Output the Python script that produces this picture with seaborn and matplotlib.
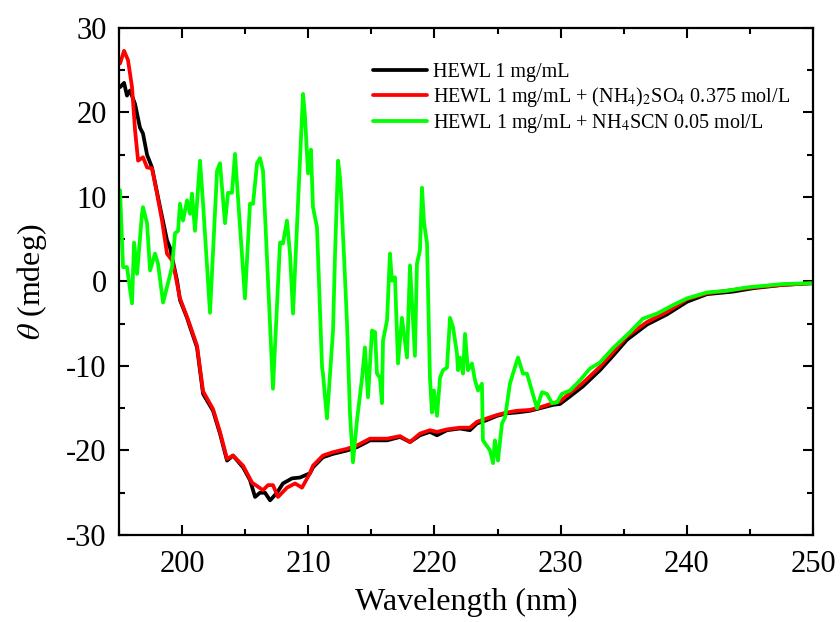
import matplotlib
matplotlib.use("Agg")
import matplotlib.pyplot as plt
import seaborn as sns
import numpy as np
from matplotlib.ticker import MultipleLocator

# ---- data ----
wl_hewl = [195.08, 195.40, 195.63, 195.87, 196.27, 196.66, 196.90, 197.22, 197.61, 198.25,
           198.80, 199.04, 199.60, 199.83, 200.39, 200.63, 201.18, 201.66, 202.45, 203.00,
           203.56, 204.03, 204.83, 205.38, 205.78, 206.17, 206.57, 206.97, 207.52, 207.99,
           208.71, 209.34, 210.13, 210.37, 211.16, 211.96, 213.07, 213.86, 214.89, 216.24,
           217.27, 218.06, 218.85, 219.64, 220.20, 220.99, 222.02, 222.81, 223.37, 224.16,
           224.95, 225.75, 226.54, 227.57, 228.36, 229.39, 229.94, 230.74, 231.77, 233.11,
           234.14, 235.25, 236.84, 238.42, 240.01, 241.59, 243.65, 245.24, 247.61, 250.0]
theta_hewl = [23.0, 23.5, 22.0, 22.6, 21.0, 18.2, 17.5, 15.0, 13.5, 8.8,
              4.9, 4.0, 0.1, -2.2, -4.3, -5.4, -7.8, -13.3, -15.3, -18.0,
              -21.2, -20.6, -22.0, -23.5, -25.5, -25.0, -25.0, -25.9, -25.0, -23.9,
              -23.3, -23.2, -22.7, -22.0, -20.8, -20.4, -20.0, -19.6, -18.8, -18.8,
              -18.4, -19.0, -18.2, -17.8, -18.2, -17.6, -17.4, -17.6, -16.8, -16.4,
              -15.9, -15.6, -15.5, -15.3, -15.0, -14.6, -14.5, -13.6, -12.4, -10.5,
              -8.8, -6.9, -5.1, -3.9, -2.4, -1.5, -1.2, -0.8, -0.4, -0.2]

wl_as = [195.08, 195.40, 195.71, 196.03, 196.27, 196.51, 196.90, 197.22, 197.61, 198.01,
         198.41, 198.80, 199.20, 199.44, 199.83, 200.39, 200.63, 201.18, 201.66, 202.45,
         203.00, 203.56, 204.03, 204.83, 205.54, 206.41, 206.81, 207.20, 207.60, 208.31,
         208.95, 209.50, 210.13, 210.37, 211.16, 211.96, 213.07, 213.86, 214.89, 216.24,
         217.27, 218.06, 218.85, 219.64, 220.20, 220.99, 222.02, 222.81, 223.37, 224.16,
         224.95, 225.75, 226.54, 227.57, 228.36, 229.39, 229.94, 230.74, 231.77, 233.11,
         234.14, 235.25, 236.84, 238.42, 240.01, 241.59, 243.65, 245.24, 247.61, 250.0]
theta_as = [25.8, 27.3, 26.2, 23.0, 17.9, 14.3, 14.7, 13.5, 13.4, 10.4,
            7.2, 3.3, 2.5, 1.0, -2.0, -4.2, -5.2, -7.6, -13.0, -15.1,
            -17.8, -21.0, -20.6, -21.8, -23.8, -24.7, -24.1, -24.1, -25.5, -24.4,
            -23.9, -24.4, -22.7, -21.8, -20.6, -20.2, -19.8, -19.4, -18.6, -18.6,
            -18.3, -19.0, -18.0, -17.6, -17.8, -17.5, -17.3, -17.3, -16.6, -16.2,
            -15.8, -15.5, -15.3, -15.2, -14.9, -14.4, -14.2, -13.2, -12.0, -10.1,
            -8.4, -6.5, -4.8, -3.6, -2.1, -1.4, -1.0, -0.7, -0.4, -0.2]

wl_scn = [195.08, 195.32, 195.63, 196.03, 196.19, 196.43, 196.82, 196.90, 197.22, 197.46,
          197.85, 198.09, 198.49, 199.20, 199.44, 199.68, 199.83, 200.07, 200.39, 200.63,
          200.78, 201.02, 201.42, 201.66, 202.21, 202.77, 203.00, 203.40, 203.64, 203.95,
          204.19, 204.98, 205.38, 205.62, 205.94, 206.17, 206.41, 207.20, 207.76, 207.99,
          208.31, 208.55, 208.79, 209.58, 209.74, 209.98, 210.21, 210.37, 210.69, 211.09,
          211.16, 211.48, 211.96, 212.12, 212.36, 212.51, 212.59, 212.83, 213.07, 213.30,
          213.54, 213.86, 214.26, 214.49, 214.73, 215.05, 215.29, 215.44, 215.68, 215.84,
          215.92, 216.24, 216.47, 216.63, 216.87, 217.11, 217.42, 217.82, 218.06, 218.45,
          218.61, 218.85, 219.01, 219.17, 219.41, 219.64, 219.80, 219.96, 220.20, 220.44,
          220.67, 220.99, 221.23, 221.47, 221.78, 221.86, 222.02, 222.26, 222.42, 222.65,
          222.97, 223.21, 223.45, 223.76, 223.84, 224.40, 224.64, 224.79, 225.03, 225.35,
          225.59, 225.98, 226.22, 226.62, 227.01, 227.33, 228.12, 228.52, 228.91, 229.31,
          229.71, 230.10, 230.74, 231.53, 232.32, 233.11, 234.14, 235.49, 236.52, 237.63,
          238.90, 240.01, 241.59, 243.17, 244.76, 247.61, 250.0]
theta_scn = [10.8, 1.7, 1.7, -2.6, 4.6, 0.9, 8.0, 8.8, 6.9, 1.3,
             3.3, 2.1, -2.5, 1.7, 5.7, 6.0, 9.2, 7.2, 9.6, 8.0,
             10.4, 6.0, 14.3, 9.2, -3.7, 13.1, 14.0, 6.9, 10.5, 10.5,
             15.1, -2.0, 9.2, 9.2, 14.0, 14.6, 13.1, -12.7, 4.6, 4.5,
             7.2, 3.3, -3.8, 22.2, 19.5, 12.8, 15.6, 8.8, 6.4, -10.2,
             -10.9, -16.2, -5.8, 3.3, 14.3, 12.3, 10.5, 3.0, -5.0, -15.6,
             -21.4, -16.4, -11.4, -7.8, -13.7, -5.8, -6.0, -10.9, -11.4, -14.4,
             -7.0, -4.6, 3.3, 0.1, 0.5, -9.7, -4.3, -9.0, 1.9, -8.8,
             2.1, 3.7, 11.1, 7.0, 4.5, -11.4, -15.5, -12.9, -15.9, -11.4,
             -10.5, -10.2, -4.3, -5.4, -8.5, -10.5, -9.0, -10.9, -6.2, -10.5,
             -9.7, -11.7, -12.9, -12.1, -18.8, -20.0, -21.5, -18.8, -21.2, -16.8,
             -16.1, -12.1, -10.9, -9.0, -10.9, -10.9, -15.0, -13.1, -13.3, -14.4,
             -14.3, -13.3, -12.9, -11.7, -10.3, -9.6, -7.9, -6.0, -4.4, -3.8,
             -2.8, -2.0, -1.3, -1.1, -0.7, -0.3, -0.2]

labels = ["HEWL 1 mg/mL",
          r"HEWL 1 mg/mL + (NH$_4$)$_2$SO$_4$ 0.375 mol/L",
          r"HEWL 1 mg/mL + NH$_4$SCN 0.05 mol/L"]
colors = ["#000000", "#ff0000", "#00ff00"]

# ---- style ----
sns.set_style("ticks")
plt.rcParams["font.family"] = ["Liberation Serif", "DejaVu Serif"]
plt.rcParams["mathtext.fontset"] = "stix"
plt.rcParams["axes.unicode_minus"] = False
for k in ["text.color", "axes.labelcolor", "xtick.color", "ytick.color", "axes.edgecolor"]:
    plt.rcParams[k] = "black"

fig = plt.figure(figsize=(8.4, 6.22), dpi=100)
ax = fig.add_axes([0.1417, 0.1399, 0.8262, 0.8151])

for x, y, lab, c in [(wl_hewl, theta_hewl, labels[0], colors[0]),
                     (wl_as, theta_as, labels[1], colors[1]),
                     (wl_scn, theta_scn, labels[2], colors[2])]:
    sns.lineplot(x=x, y=y, ax=ax, color=c, lw=2.7, label=lab,
                 estimator=None, sort=False)

ax.set_xlim(195, 250)
ax.set_ylim(-30, 30)
ax.xaxis.set_major_locator(MultipleLocator(10))
ax.xaxis.set_minor_locator(MultipleLocator(5))
ax.yaxis.set_major_locator(MultipleLocator(10))
ax.yaxis.set_minor_locator(MultipleLocator(5))
ax.tick_params(which="both", direction="in", top=True, right=True, width=1.5,
               labelsize=22, colors="black")
ax.tick_params(axis="x", which="major", pad=11)
ax.tick_params(axis="y", which="major", pad=9)
ax.tick_params(which="major", length=7)
ax.tick_params(which="minor", length=4)
ax.set_xticks([200, 210, 220, 230, 240, 250])
for s in ax.spines.values():
    s.set_linewidth(1.6)
    s.set_visible(True)
    s.set_color("black")

ax.set_xlabel("Wavelength (nm)", fontsize=23, labelpad=6)
ax.set_ylabel(r"$\theta$ (mdeg)", fontsize=23, labelpad=12)

leg = ax.legend(loc="upper right", bbox_to_anchor=(0.985, 0.955), frameon=False,
                fontsize=14.5, handlelength=2.7, handletextpad=0.3,
                labelspacing=0.15, borderaxespad=0.2)
for h in leg.get_lines():
    h.set_linewidth(2.7)

fig.savefig("out.png", dpi=100)
